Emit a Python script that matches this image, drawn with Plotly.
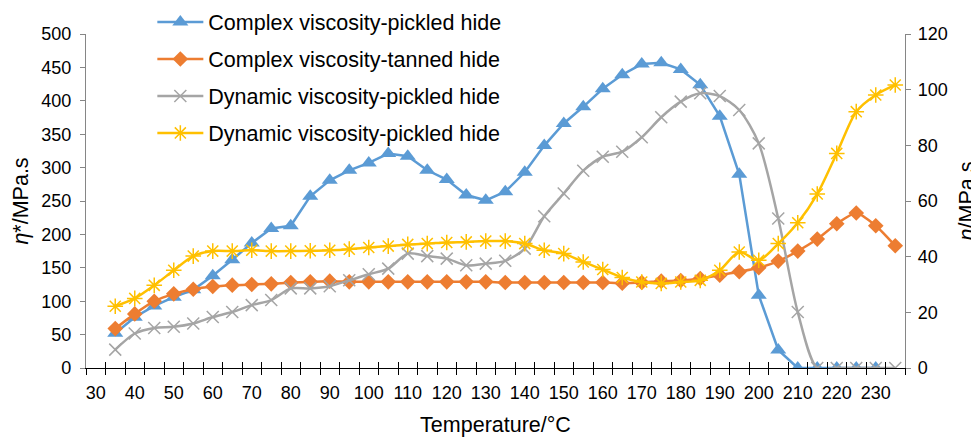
import plotly.graph_objects as go

temps = list(range(35, 240, 5))

complex_pickled = [52, 76, 93, 106, 117, 138, 162, 187, 209, 213, 257, 281, 296, 307, 321, 317,
                   296, 282, 259, 251, 264, 293, 333, 366, 391, 418, 439, 455, 457, 447, 424, 377,
                   290, 109, 27, 0, 0, 0, 0, 0, None]

complex_tanned = [59, 81, 100, 111, 118, 122, 124, 125, 126, 128, 129, 130, 129, 129, 129, 129,
                  129, 129, 129, 129, 128, 128, 128, 128, 128, 128, 127, 128, 130, 131, 134, 139,
                  144, 150, 160, 175, 193, 216, 232, 213, 183]

dynamic_pickled = [6.6, 12.4, 14.4, 14.8, 16.0, 18.3, 20.1, 22.6, 24.4, 28.6, 28.6, 29.4, 31.5,
                   33.7, 35.7, 41.1, 40.2, 39.3, 36.9, 37.5, 38.5, 42.9, 54.5, 62.7, 70.9, 75.9,
                   77.7, 82.9, 90.1, 95.7, 98.7, 97.7, 92.7, 80.7, 53.7, 20.1, 0, 0, 0, 0, 0]

dynamic_pickled_2 = [22.2, 25.0, 29.7, 35.1, 40.2, 42.0, 42.0, 42.3, 42.0, 42.0, 42.1, 42.3, 42.7,
                     43.3, 43.8, 44.4, 44.7, 45.1, 45.3, 45.6, 45.6, 44.7, 42.3, 41.1, 38.1, 35.4,
                     32.5, 30.9, 30.4, 30.9, 31.5, 35.1, 41.7, 38.7, 44.7, 52.2, 62.5, 77.1, 92.1,
                     98.1, 101.7]

x_labels = list(range(30, 240, 10))
category_edges = [v - 2.5 for v in range(30, 245, 5)]
left_ticks = list(range(0, 550, 50))
right_ticks = list(range(0, 140, 20))

FONT = "Liberation Sans, Arial, sans-serif"
BLUE = "#5B9BD5"
ORANGE = "#ED7D31"
GRAY = "#A5A5A5"
YELLOW = "#FFC000"
AXIS_GRAY = "#868686"

fig = go.Figure()
fig.add_trace(go.Scatter(
    x=temps, y=complex_pickled, name="Complex viscosity-pickled hide", mode="lines+markers",
    line=dict(color=BLUE, width=2.5), marker=dict(symbol="triangle-up", size=14, color=BLUE),
    legendgroup="a", yaxis="y"))
fig.add_trace(go.Scatter(
    x=temps, y=complex_tanned, name="Complex viscosity-tanned hide", mode="lines+markers",
    line=dict(color=ORANGE, width=2.5, shape="spline", smoothing=0.6),
    marker=dict(symbol="diamond", size=12, color=ORANGE), legendgroup="b", yaxis="y"))
fig.add_trace(go.Scatter(
    x=temps, y=dynamic_pickled, name="Dynamic viscosity-pickled hide", mode="lines+markers",
    line=dict(color=GRAY, width=2.5, shape="spline", smoothing=0.8),
    marker=dict(symbol="x-thin-open", size=12, color=GRAY, line=dict(color=GRAY, width=1.5)),
    legendgroup="c", yaxis="y2"))
fig.add_trace(go.Scatter(
    x=temps, y=dynamic_pickled_2, name="Dynamic viscosity-pickled hide", mode="lines+markers",
    line=dict(color=YELLOW, width=2.5, shape="spline", smoothing=0.8),
    marker=dict(symbol="asterisk-open", size=13, color=YELLOW, line=dict(color=YELLOW, width=1.5)),
    legendgroup="d", yaxis="y2"))

xr = [27.5, 237.5]
# invisible carriers so the tick-mark-only axes get drawn
for ax in ("x2", "x3"):
    fig.add_trace(go.Scatter(x=[xr[0]], y=[0], xaxis=ax, yaxis="y", mode="markers",
                             marker=dict(opacity=0, size=1), showlegend=False, hoverinfo="skip"))

# page body adds an 8 px offset, so the figure is 8 px smaller and margins shifted
fig.update_layout(
    width=971, height=429,
    margin=dict(l=78, r=74, t=26, b=69, autoexpand=False),
    paper_bgcolor="white", plot_bgcolor="white",
    font=dict(family=FONT, size=18, color="#000000"),
    showlegend=True,
    legend=dict(x=0.081, y=1.097, xanchor="left", yanchor="top", bgcolor="rgba(0,0,0,0)",
                font=dict(size=21.5, family=FONT), traceorder="grouped", tracegroupgap=6,
                itemwidth=46),
    xaxis=dict(range=xr, tickvals=x_labels, ticktext=[str(v) for v in x_labels],
               ticks="outside", ticklen=8, tickcolor="rgba(0,0,0,0)",
               showgrid=False, zeroline=False, showline=True, linecolor="black", linewidth=1.3,
               tickfont=dict(size=18), title=dict(text="Temperature/°C", font=dict(size=21.5), standoff=18)),
    xaxis2=dict(range=xr, overlaying="x", anchor="y", side="bottom", tickvals=category_edges,
                ticks="outside", ticklen=6, tickwidth=1.3, tickcolor="black", showticklabels=False,
                showgrid=False, zeroline=False, showline=False),
    xaxis3=dict(range=xr, overlaying="x", anchor="y", side="bottom", tickvals=category_edges,
                ticks="inside", ticklen=6, tickwidth=1.3, tickcolor="black", showticklabels=False,
                showgrid=False, zeroline=False, showline=False),
    yaxis=dict(range=[0, 500], tickvals=left_ticks, ticks="outside", ticklen=5, tickcolor=AXIS_GRAY,
               showgrid=False, zeroline=False, showline=True, linecolor=AXIS_GRAY, linewidth=1.3,
               tickfont=dict(size=18), ticklabelstandoff=5,
               title=dict(text="<i>η</i>*/MPa.s", font=dict(size=21.5), standoff=6)),
    yaxis2=dict(range=[0, 120], tickvals=right_ticks, overlaying="y", side="right", anchor="x",
                ticks="outside", ticklen=5, tickcolor=AXIS_GRAY, showgrid=False, zeroline=False,
                showline=True, linecolor=AXIS_GRAY, linewidth=1.3, tickfont=dict(size=18),
                ticklabelstandoff=3,
                title=dict(text="<i>η</i>/MPa.s", font=dict(size=21.5), standoff=18)),
)

fig.write_html("out.html")
